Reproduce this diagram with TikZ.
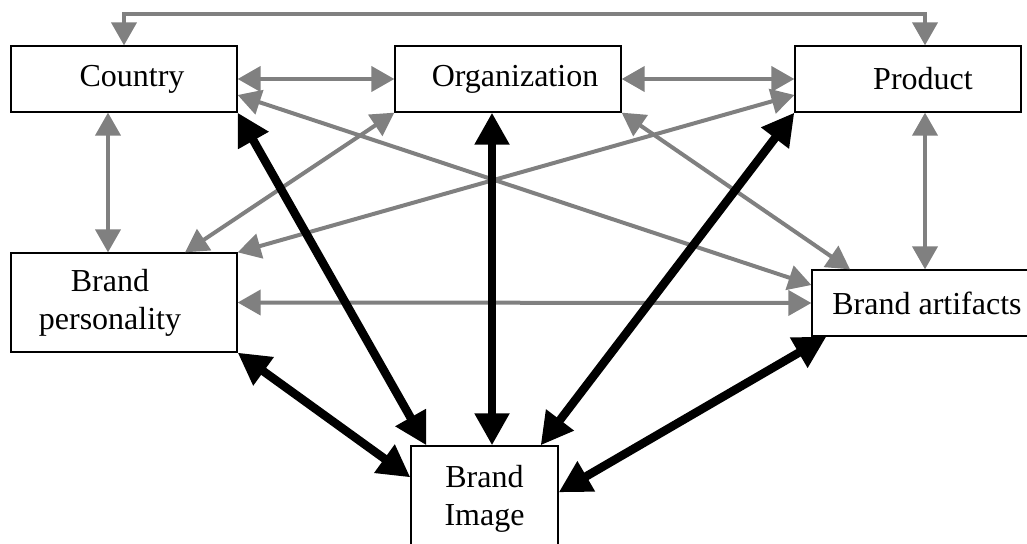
\documentclass[tikz,border=0pt]{standalone}
\usepackage{fontspec}
\setmainfont{Liberation Serif}
\usetikzlibrary{arrows.meta}

\begin{document}
\begin{tikzpicture}[x=1pt,y=-1pt]

            % BOUNDING BOX
            \useasboundingbox (0,0) rectangle (1027,543);

            % EDGECOLOR
            \definecolor{edgecolor_gray}{rgb}{ 0.5 0.5 0.5 }

            % DEF STYLES
            \tikzstyle{boxstyle} = [draw, fill=white, line width=1.3pt, inner sep=2pt, minimum width=226pt, minimum height=66pt, align=center, font=\fontsize{32}{38}\selectfont]
            \tikzstyle{edgestyle_gray} = [line width=4pt, color=edgecolor_gray, {Triangle[length=23pt,width=25pt]}-{Triangle[length=23pt,width=25pt]}]
            \tikzstyle{edgestyle_black} = [line width=8.5pt, color=black, {Triangle[length=32pt,width=33pt]}-{Triangle[length=32pt,width=33pt]}]

            % BOXES
            \node[boxstyle] (country) at (124,79) {\hspace*{16pt}Country};
            \node[boxstyle] (organization) at (508,79) {\hspace*{14pt}Organization};
            \node[boxstyle] (product) at (908,79) {\hspace*{30pt}Product};
            \node[boxstyle, minimum height=99pt] (personality) at (124,302.5) {Brand\hspace*{28pt}\\personality\hspace*{28pt}};
            \node[boxstyle, minimum width=216pt] (artifacts) at (920,303) {\hspace*{14pt}Brand artifacts};
            \node[boxstyle, minimum width=147pt, minimum height=105pt] (image) at (484.5,498.5) {Brand\\Image};

            \coordinate (bus) at (500,14);

            % GRAY EDGES
            \foreach \i/\k in {country.east/organization.west,organization.east/product.west,personality.east/artifacts.west} {
              \draw[edgestyle_gray] (\i) -- (\k);
            }
            \draw[edgestyle_gray] (country.north) |- (bus) -| ([xshift=17pt]product.north);
            \draw[edgestyle_gray] ([xshift=-16pt]country.south) -- ([xshift=-16pt]personality.north);
            \draw[edgestyle_gray] ([xshift=17pt]product.south) -- ([xshift=5pt]artifacts.north);
            \draw[edgestyle_gray] ([yshift=-16pt]country.east) -- ([yshift=18pt]artifacts.west);
            \draw[edgestyle_gray] (organization.south west) -- ([xshift=61pt]personality.north);
            \draw[edgestyle_gray] (organization.south east) -- ([xshift=-70pt]artifacts.north);
            \draw[edgestyle_gray] ([yshift=-16pt]product.west) -- (personality.north east);

            % BLACK EDGES
            \draw[edgestyle_black] (country.south east) -- ([xshift=16pt]image.north west);
            \draw[edgestyle_black] ([xshift=-16pt]organization.south) -- ([xshift=-16pt]organization.south |- image.north);
            \draw[edgestyle_black] (product.south west) -- ([xshift=-18pt]image.north east);
            \draw[edgestyle_black] (personality.south east) -- ([yshift=-32pt]image.north west);
            \draw[edgestyle_black] ([xshift=15pt]artifacts.south west) -- ([yshift=-47pt]image.north east);

\end{tikzpicture}
\end{document}
